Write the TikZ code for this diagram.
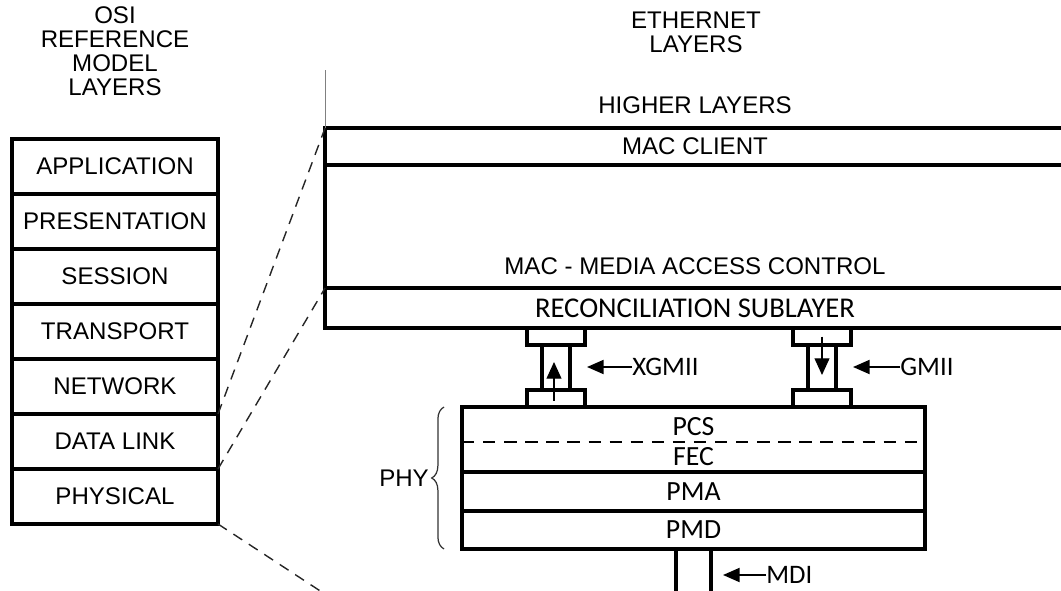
\documentclass[tikz,border=0pt]{standalone}
\usepackage{fontspec}
\setmainfont{Liberation Sans}
\newfontfamily\calibri{Carlito}
\usetikzlibrary{arrows.meta,positioning,calc,decorations.pathreplacing}

\begin{document}
\begin{tikzpicture}[x=0.02cm,y=-0.02cm,
  font=\fontsize{13.7}{13.7}\selectfont,
  layer/.style={draw, line width=2.3pt, outer sep=0pt, inner sep=0pt},
  osilayer/.style={layer, minimum width=4.12cm, minimum height=1.1cm},
  ethlayer/.style={layer, minimum width=14.8cm},
  sublayer/.style={layer, minimum width=9.26cm, font=\calibri\fontsize{15.8}{15.8}\selectfont},
  port/.style={draw, line width=2.1pt, outer sep=0pt, minimum width=1.16cm, minimum height=0.34cm},
  tag/.style={font=\calibri\fontsize{15.2}{15.2}\selectfont, inner sep=0pt, anchor=west},
  zoomline/.style={dash pattern=on 6pt off 4.5pt, line width=0.8pt, black!85},
  pointer/.style={-{Triangle[length=9.5pt,width=8pt]}, line width=1.1pt},
  flow/.style={-{Triangle[length=9.5pt,width=8.5pt]}, line width=0.7pt}]
\path[use as bounding box, clip] (0,0) rectangle (1061,591);

\node[align=center] (osititle) at (115,51) {OSI\\REFERENCE\\MODEL\\LAYERS};
\foreach \name/\txt [count=\i] in {app/APPLICATION, pres/PRESENTATION, ses/SESSION,
    trans/TRANSPORT, net/NETWORK, link/DATA LINK, phys/PHYSICAL}
  \node[osilayer] (\name) at (115,{111.5+55*\i}) {\txt};

\node[align=center] (ethtitle) at (696,32) {ETHERNET\\LAYERS};
\node (higher) at (695,105) {HIGHER LAYERS};
\node[ethlayer, minimum height=0.74cm] (client) at (695,146.5) {MAC CLIENT};
\node[ethlayer, minimum height=2.46cm, below=0pt of client] (mac) {};
\node[ethlayer, minimum height=0.8cm, below=0pt of mac,
  font=\calibri\fontsize{16.3}{16.3}\selectfont] (recon) {RECONCILIATION SUBLAYER};
\node[anchor=base] (macname) at (695,274.5) {MAC - MEDIA ACCESS CONTROL};
\draw[gray, line width=0.5pt] (client.north west) -- ++(0,-58);

\node[sublayer, minimum height=1.3cm] (pcsfec) at (693.5,439.5) {};
\node[sublayer, minimum height=0.78cm, below=0pt of pcsfec] (pma) {PMA};
\node[sublayer, minimum height=0.76cm, below=0pt of pma] (pmd) {PMD};
\node[font=\calibri\fontsize{15.8}{15.8}\selectfont] (pcs) at (693.5,427) {PCS};
\node[font=\calibri\fontsize{15.8}{15.8}\selectfont] (fec) at (693.5,457) {FEC};
\draw[dash pattern=on 7pt off 5pt, line width=0.6pt] ($(pcsfec.west)+(0,2.5)$) -- ($(pcsfec.east)+(0,2.5)$);
\node (phy) at (404,478) {PHY};
\draw[decorate, decoration={brace, amplitude=7pt}, line width=0.7pt, black!80]
  ($(pmd.south west)+(-18,0)$) -- ($(pcsfec.north west)+(-18,0)$);

\node[port] (xgtop) at (556,336.5) {};
\node[port] (xgbot) at (556,398.5) {};
\node[port] (gtop) at (822,336.5) {};
\node[port] (gbot) at (822,398.5) {};
\foreach \a/\b in {xgtop/xgbot, gtop/gbot} {
  \draw[line width=2.1pt] ($(\a.south)+(-14,0)$) -- ($(\b.north)+(-14,0)$);
  \draw[line width=2.1pt] ($(\a.south)+(14,0)$) -- ($(\b.north)+(14,0)$);
}
\draw[flow] ($(xgbot.center)+(-2,2)$) -- ($(xgtop.south)+(-2,17)$);
\draw[flow] (gtop.center) -- ($(gbot.north)+(0,-15)$);

\draw[line width=2.1pt] ($(pmd.south)+(-17.5,0)$) -- ++(0,50);
\draw[line width=2.1pt] ($(pmd.south)+(17.5,0)$) -- ++(0,50);

\node[tag] (xgmii) at (632,367) {XGMII};
\node[tag] (gmii) at (900,367) {GMII};
\node[tag] (mdi) at (766,575) {MDI};
\coordinate (xgtip) at (587,367);
\coordinate (gtip) at (853,367);
\coordinate (mditip) at (723,575);
\draw[pointer] (xgmii.west) -- (xgtip);
\draw[pointer] (gmii.west) -- (gtip);
\draw[pointer] (mdi.west) -- (mditip);

\coordinate (physend) at (334,600);
\draw[zoomline] (net.south east) -- (client.north west);
\draw[zoomline] (link.south east) -- (recon.north west);
\draw[zoomline] (phys.south east) -- (physend);
\end{tikzpicture}
\end{document}
